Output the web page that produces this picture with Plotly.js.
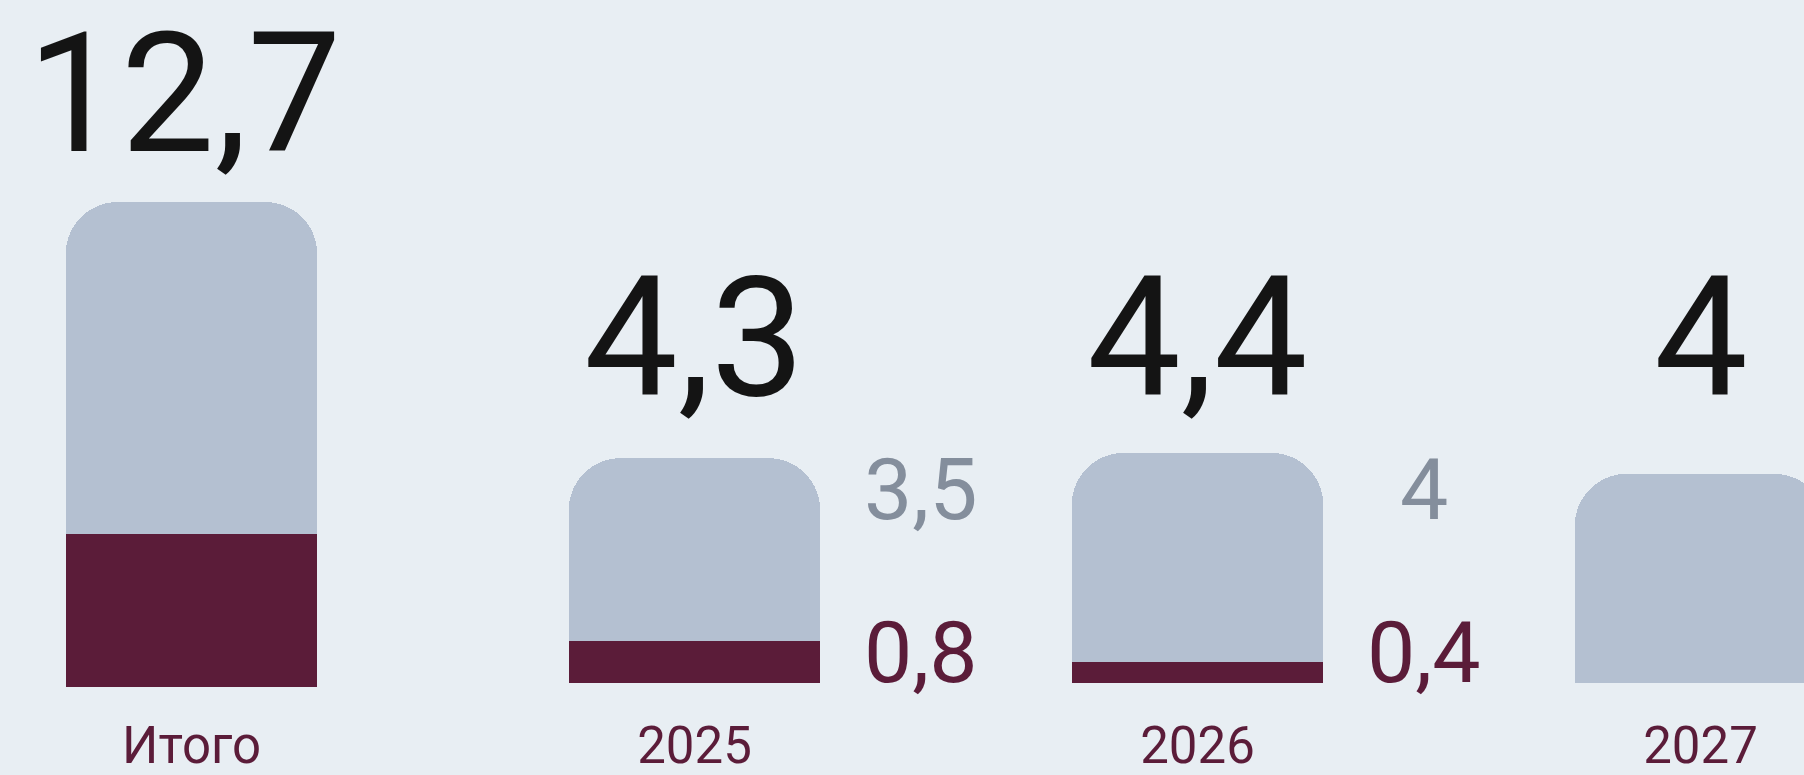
<!DOCTYPE html>
<html>
<head>
<meta charset="utf-8">
<script src="https://cdn.plot.ly/plotly-3.0.1.min.js"></script>
<style>
  html, body { margin: 0; padding: 0; background: #E8EEF3; }
  #chart { width: 1804px; height: 775px; }
</style>
</head>
<body>
<div id="chart"></div>
<script>
// ---- data ----
const totalLabel = 'Итого';
const totalValue = 12.7;          // labelled
const totalGrayPart = 8.7;        // estimated from bar proportions (unlabelled)
const totalDarkPart = 4.0;        // estimated from bar proportions (unlabelled)

const years = ['2025', '2026', '2027'];
const yearTotals = [4.3, 4.4, 4];
const yearGray = [3.5, 4, 4];
const yearDark = [0.8, 0.4, 0];

// ---- styling ----
const BG = '#E8EEF3';
const GRAY = '#B4C0D1';
const DARK = '#5B1C39';
const BIG_TXT = '#141414';
const SIDE_GRAY_TXT = '#848E9C';
const FONT = 'Roboto, "Open Sans", sans-serif';

const W = 1804, H = 775;
const STEP = 503;                 // px between category centres
const FIRST = 191.5;              // px of first centre
const X0 = -FIRST / STEP;
const X1 = X0 + W / STEP;

const BASE_TOTAL = 687, SCALE_TOTAL = 38.19;  // px baseline, px per unit
const BASE_YEAR = 683, SCALE_YEAR = 52.3;

const fmt = v => String(Math.round(v * 10) / 10).replace('.', ',');
const py = px => 1 - px / H;

const categories = [totalLabel].concat(years);
const yearX = years.map((_, i) => i + 1);

const barCommon = { type: 'bar', width: 0.5, hoverinfo: 'skip', xaxis: 'x' };

const traces = [
  Object.assign({}, barCommon, { x: [0], y: [totalDarkPart], yaxis: 'y', marker: { color: DARK, line: { width: 0 }, cornerradius: 52 } }),
  Object.assign({}, barCommon, { x: [0], y: [totalGrayPart], yaxis: 'y', marker: { color: GRAY, line: { width: 0 }, cornerradius: 52 } }),
  Object.assign({}, barCommon, { x: yearX, y: yearDark, yaxis: 'y2', marker: { color: DARK, line: { width: 0 }, cornerradius: 52 } }),
  Object.assign({}, barCommon, { x: yearX, y: yearGray, yaxis: 'y2', marker: { color: GRAY, line: { width: 0 }, cornerradius: 52 } })
];

const BIG = 167, SIDE = 86;
const DESC = 0.244, PAD = 4;
const annotations = [];
// big totals
annotations.push({ xref: 'x', yref: 'paper', x: 0, xshift: -8, y: py(149 + DESC * BIG + PAD), xanchor: 'center', yanchor: 'bottom',
  text: fmt(totalValue), showarrow: false, font: { family: FONT, size: BIG, color: BIG_TXT } });
yearTotals.forEach((v, i) => {
  annotations.push({ xref: 'x', yref: 'paper', x: i + 1, y: py(393 + DESC * BIG + PAD), xanchor: 'center', yanchor: 'bottom',
    text: fmt(v), showarrow: false, font: { family: FONT, size: BIG, color: BIG_TXT } });
});
// side labels for the segments
yearGray.forEach((g, i) => {
  if (yearDark[i] <= 0) return;
  annotations.push({ xref: 'x', yref: 'paper', x: i + 1 + 0.45, y: py(517 + DESC * SIDE + PAD), xanchor: 'center', yanchor: 'bottom',
    text: fmt(g), showarrow: false, font: { family: FONT, size: SIDE, color: SIDE_GRAY_TXT } });
  annotations.push({ xref: 'x', yref: 'paper', x: i + 1 + 0.45, y: py(680 + DESC * SIDE + PAD), xanchor: 'center', yanchor: 'bottom',
    text: fmt(yearDark[i]), showarrow: false, font: { family: FONT, size: SIDE, color: DARK } });
});

const layout = {
  width: W, height: H,
  paper_bgcolor: BG, plot_bgcolor: 'rgba(0,0,0,0)',
  margin: { l: 0, r: 0, t: 0, b: 0, pad: 0 },
  barmode: 'stack',
  showlegend: false,
  xaxis: {
    range: [X0, X1], tickmode: 'array', tickvals: [0, 1, 2, 3], ticktext: categories,
    showgrid: false, zeroline: false, showline: false, ticks: '', ticklabelstandoff: 24,
    tickfont: { family: FONT, size: 51, color: DARK }, anchor: 'y', fixedrange: true
  },
  yaxis: { domain: [py(BASE_TOTAL), 1], range: [0, BASE_TOTAL / SCALE_TOTAL], visible: false, fixedrange: true },
  yaxis2: { domain: [py(BASE_YEAR), 1], range: [0, BASE_YEAR / SCALE_YEAR], visible: false, anchor: 'x', fixedrange: true },
  annotations: annotations
};

Plotly.newPlot('chart', traces, layout, { staticPlot: true, displayModeBar: false });
</script>
</body>
</html>
